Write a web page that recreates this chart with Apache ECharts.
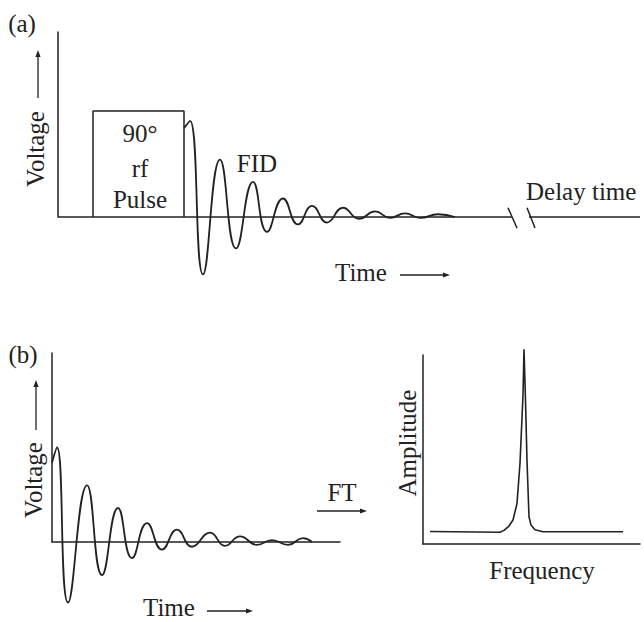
<!DOCTYPE html>
<html>
<head>
<meta charset="utf-8">
<script src="https://cdn.jsdelivr.net/npm/echarts@6/dist/echarts.min.js"></script>
<style>
  html, body { margin: 0; padding: 0; background: #fff; }
  #chart { width: 644px; height: 622px; }
</style>
</head>
<body>
<div id="chart"></div>
<script>
// (a) pulse + FID, time in ms, voltage in arbitrary units
const pulseTime = [3.5, 3.5, 12.6, 12.6];
const pulseVolt = [0, 5.73, 5.73, 0];
const fidTimeA = [12.6, 13.2, 14.5, 16.2, 17.8, 19.5, 20.9, 22.5, 24.0, 25.4, 26.9, 28.5, 30.1, 31.7, 33.2, 34.7, 36.2, 38.0, 39.7];
const fidVoltA = [4.8, 5.2, -3.1, 3.1, -1.7, 1.9, -0.8, 1.0, -0.4, 0.6, -0.3, 0.5, -0.1, 0.3, -0.05, 0.2, -0.05, 0.15, 0];
// time axis with a break before the delay time
const baseSegments = [[0, 45.4], [47.1, 58.2]];
const breakMarks = [[45.0, 45.9], [46.9, 47.7]];

// (b) FID and its Fourier transform
const fidTimeB = [0, 0.5, 1.6, 3.5, 5.0, 6.6, 8.0, 9.5, 11.0, 12.5, 14.0, 15.8, 17.3, 18.8, 20.5, 22.0, 23.6, 25.1, 26.0];
const fidVoltB = [4.2, 5.0, -3.2, 3.0, -1.75, 1.8, -0.85, 1.0, -0.4, 0.65, -0.25, 0.5, -0.2, 0.3, -0.15, 0.1, -0.15, 0.2, 0];
const freq = [0.7, 7.7, 8.1, 8.6, 9.0, 9.4, 9.7, 10.0, 10.1, 10.25, 10.4, 10.6, 10.8, 11.2, 12.0, 20.0];
const amp = [0.66, 0.62, 0.72, 0.95, 1.27, 2.15, 4.27, 7.88, 10.3, 7.6, 4.4, 1.44, 1.0, 0.75, 0.65, 0.65];

const ink = '#222';
const serif = "'Liberation Serif', 'DejaVu Serif', serif";
const zip = (xs, ys) => xs.map((x, i) => [x, ys[i]]);

const chart = echarts.init(document.getElementById('chart'), null, { renderer: 'svg' });

const hiddenX = (i, max, showLine) => ({
    type: 'value', gridIndex: i, min: 0, max,
    axisLine: { show: showLine, lineStyle: { color: ink, width: 1.5 } },
    axisTick: { show: false }, axisLabel: { show: false }, splitLine: { show: false }
});
const plainY = (i) => ({
    type: 'value', gridIndex: i, min: 0, max: 10,
    axisLine: { show: true, lineStyle: { color: ink, width: 1.5 } },
    axisTick: { show: false }, axisLabel: { show: false }, splitLine: { show: false }
});

const lineSeries = (i, data, extra) => Object.assign({
    type: 'line', xAxisIndex: i, yAxisIndex: i, data,
    symbol: 'none', clip: false, silent: true,
    lineStyle: { color: ink, width: 1.8 }
}, extra || {});

// serif label; align left or center
const text = (str, x, y, align, rotation) => ({
    type: 'text', x, y, rotation: rotation || 0,
    style: {
        text: str, font: '25px ' + serif, fill: ink,
        align: align || 'center', verticalAlign: 'middle'
    }
});

// small arrow: shaft plus head at (x2, y2)
const arrow = (x1, y1, x2, y2) => {
    const a = Math.atan2(y2 - y1, x2 - x1);
    const L = 7, W = 2.6;
    const bx = x2 - L * Math.cos(a), by = y2 - L * Math.sin(a);
    return [
        { type: 'line', shape: { x1, y1, x2: bx, y2: by }, style: { stroke: ink, lineWidth: 1.3 } },
        { type: 'polygon', shape: { points: [[x2, y2],
            [bx + W * Math.sin(a), by - W * Math.cos(a)],
            [bx - W * Math.sin(a), by + W * Math.cos(a)]] }, style: { fill: ink } }
    ];
};

const series = [
    lineSeries(0, zip(pulseTime, pulseVolt), { lineStyle: { color: ink, width: 1.5 } }),
    lineSeries(0, zip(fidTimeA, fidVoltA), { smooth: 0.5 }),
    {
        type: 'lines', coordinateSystem: 'cartesian2d', xAxisIndex: 0, yAxisIndex: 0,
        silent: true, clip: false,
        lineStyle: { color: ink, width: 1.5, opacity: 1 },
        data: baseSegments.map(s => ({ coords: [[s[0], 0], [s[1], 0]] }))
            .concat(breakMarks.map(s => ({ coords: [[s[0], 0.5], [s[1], -0.6]] })))
    },
    lineSeries(1, zip(fidTimeB, fidVoltB), { smooth: 0.5 }),
    lineSeries(2, zip(freq, amp), { lineStyle: { color: ink, width: 1.6 } })
];

const graphic = [
    text('(a)', 22, 23),
    text('Voltage', 35, 149, 'center', Math.PI / 2),
    ...arrow(38, 98, 38, 50),
    text('90°', 140, 133),
    text('rf', 140, 168),
    text('Pulse', 140, 199),
    text('FID', 257, 163),
    text('Delay time', 526, 191, 'left'),
    text('Time', 335, 272, 'left'),
    ...arrow(400, 275, 450, 275),

    text('(b)', 23, 354),
    text('Voltage', 33, 480, 'center', Math.PI / 2),
    ...arrow(36, 430, 36, 380),
    text('Time', 143, 607, 'left'),
    ...arrow(207, 611, 253, 611),
    text('FT', 342, 492),
    ...arrow(317, 511, 367, 511),
    text('Amplitude', 407, 443, 'center', Math.PI / 2),
    text('Frequency', 542, 570)
];

const option = {
    backgroundColor: '#fff',
    animation: false,
    grid: [
        { left: 58, top: 32, width: 582, height: 185 },
        { left: 52, top: 353, width: 288, height: 189 },
        { left: 423, top: 355, width: 217, height: 189 }
    ],
    xAxis: [hiddenX(0, 58.2, false), hiddenX(1, 28.8, true), hiddenX(2, 21.7, true)],
    yAxis: [plainY(0), plainY(1), plainY(2)],
    series,
    graphic
};

chart.setOption(option);
</script>
</body>
</html>
